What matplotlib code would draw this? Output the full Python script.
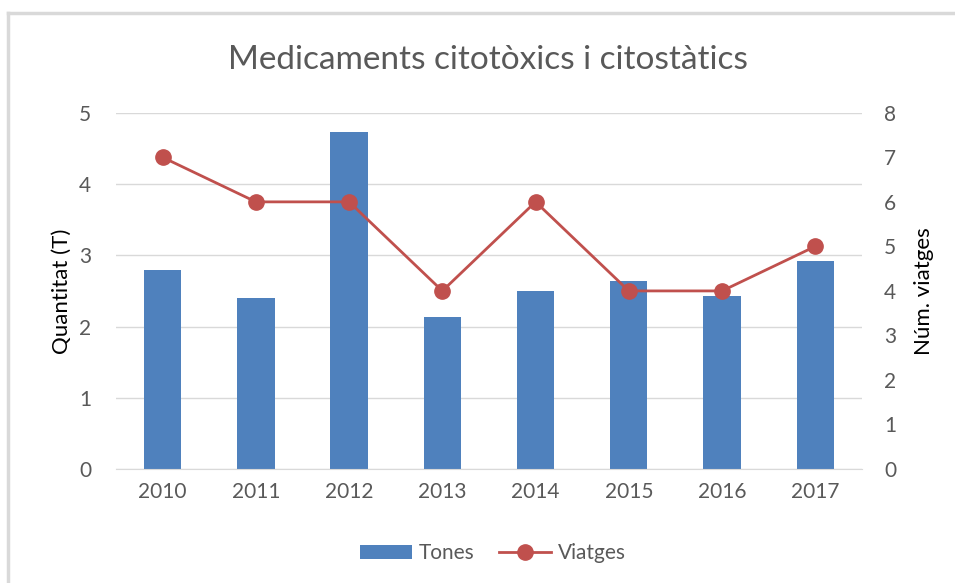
import matplotlib.pyplot as plt
import numpy as np

plt.rcParams['font.family'] = ['Lato', 'DejaVu Sans']

# data
years = ['2010', '2011', '2012', '2013', '2014', '2015', '2016', '2017']
tones = [2.8, 2.4, 4.73, 2.13, 2.5, 2.64, 2.43, 2.92]
viatges = [7, 6, 6, 4, 6, 4, 4, 5]

bar_color = '#4F81BD'
line_color = '#C0504D'
text_gray = '#595959'
grid_gray = '#D9D9D9'

fig = plt.figure(figsize=(9.55, 5.83), dpi=100)
ax = fig.add_axes([0.1215, 0.1955, 0.781, 0.611])
ax2 = ax.twinx()

x = np.arange(len(years))
bars = ax.bar(x, tones, width=0.4, color=bar_color, label='Tones', zorder=2)
line, = ax2.plot(x, viatges, color=line_color, lw=2, marker='o', ms=11,
                 label='Viatges', zorder=3)

ax.set_xlim(-0.5, len(years) - 0.5)
ax.set_ylim(0, 5)
ax2.set_ylim(0, 8)
ax.set_yticks(range(0, 6))
ax2.set_yticks(range(0, 9))
ax.set_xticks(x)
ax.set_xticklabels(years)

ax.yaxis.grid(True, color=grid_gray, lw=1, zorder=0)
ax.set_axisbelow(True)
for a in (ax, ax2):
    for s in ['top', 'left', 'right']:
        a.spines[s].set_visible(False)
    a.spines['bottom'].set_color(grid_gray)
    a.tick_params(length=0, labelsize=15, colors=text_gray, pad=18)
ax.tick_params(axis='x', pad=9)
ax2.tick_params(axis='y', pad=16)
ax2.spines['bottom'].set_visible(False)
ax.set_zorder(1)
ax2.set_zorder(2)
ax.patch.set_visible(False)

ax.set_ylabel('Quantitat (T)', fontsize=16, color='black', labelpad=5)
ax2.set_ylabel('Núm. viatges', fontsize=16, color='black', labelpad=13)

fig.text(0.511, 0.897, 'Medicaments citotòxics i citostàtics', ha='center',
         va='center', fontsize=24, color=text_gray)

leg = fig.legend(handles=[bars, line], loc='center', bbox_to_anchor=(0.516, 0.051),
                 ncol=2, frameon=False, fontsize=15, handlelength=2.5,
                 columnspacing=1.2, handletextpad=0.3)
for t in leg.get_texts():
    t.set_color(text_gray)

# frame border on left/top like the source screenshot
fig.add_artist(plt.Line2D([0.0089, 0.0089], [0, 0.977], color='#D9D9D9', lw=2.5,
                          transform=fig.transFigure))
fig.add_artist(plt.Line2D([0.0089, 1.0], [0.977, 0.977], color='#D9D9D9', lw=2.5,
                          transform=fig.transFigure))

fig.savefig('out.png', dpi=100)
